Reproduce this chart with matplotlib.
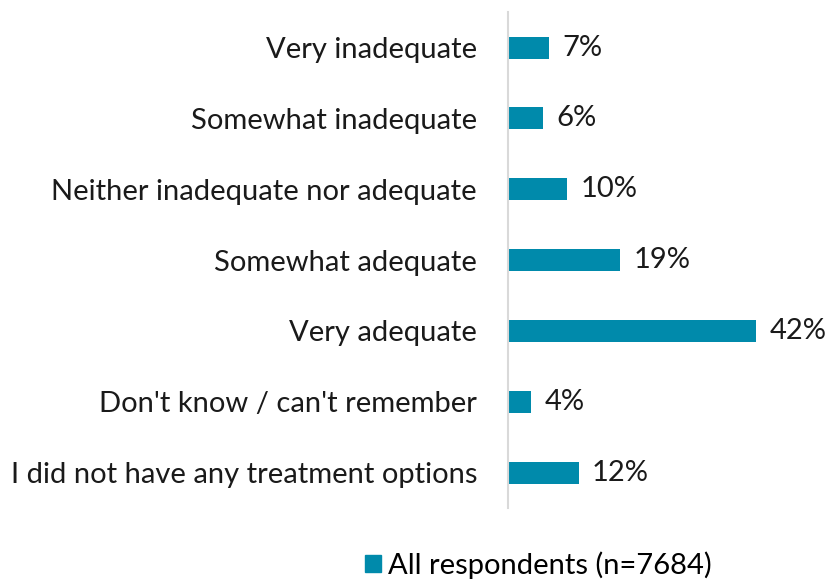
import matplotlib
matplotlib.use('Agg')
import matplotlib.pyplot as plt
from matplotlib.patches import Patch

categories = ['Very inadequate', 'Somewhat inadequate', 'Neither inadequate nor adequate',
              'Somewhat adequate', 'Very adequate', "Don't know / can't remember",
              'I did not have any treatment options']
values = [7, 6, 10, 19, 42, 4, 12]
labels = ['7%', '6%', '10%', '19%', '42%', '4%', '12%']
series_name = 'All respondents (n=7684)'

color = '#008aab'
plt.rcParams['font.family'] = ['Lato', 'DejaVu Sans']

fig = plt.figure(figsize=(8.35, 5.8), dpi=100)
ax = fig.add_axes([0.608, 0.124, 0.35, 0.855])

y = list(range(len(categories)))
ax.barh(y, values, height=0.31, color=color)
for yi, v, lab in zip(y, values, labels):
    ax.text(v + 2.3, yi, lab, va='center', ha='left', fontsize=21, color='#1a1a1a')

ax.set_ylim(len(categories) - 0.5, -0.5)
ax.set_xlim(0, 49.5)
ax.set_yticks(y)
ax.set_yticklabels(categories, fontsize=21, color='#1a1a1a')
ax.tick_params(axis='y', length=0, pad=22)
ax.set_xticks([])
for s in ['top', 'right', 'bottom']:
    ax.spines[s].set_visible(False)
ax.spines['left'].set_color('#d9d9d9')
ax.spines['left'].set_linewidth(1.5)

fig.legend(handles=[Patch(color=color, label=series_name)], loc='center',
           bbox_to_anchor=(0.645, 0.026), frameon=False, fontsize=21,
           handlelength=0.55, handleheight=0.55, handletextpad=0.25)

fig.savefig('out.png', dpi=100)
